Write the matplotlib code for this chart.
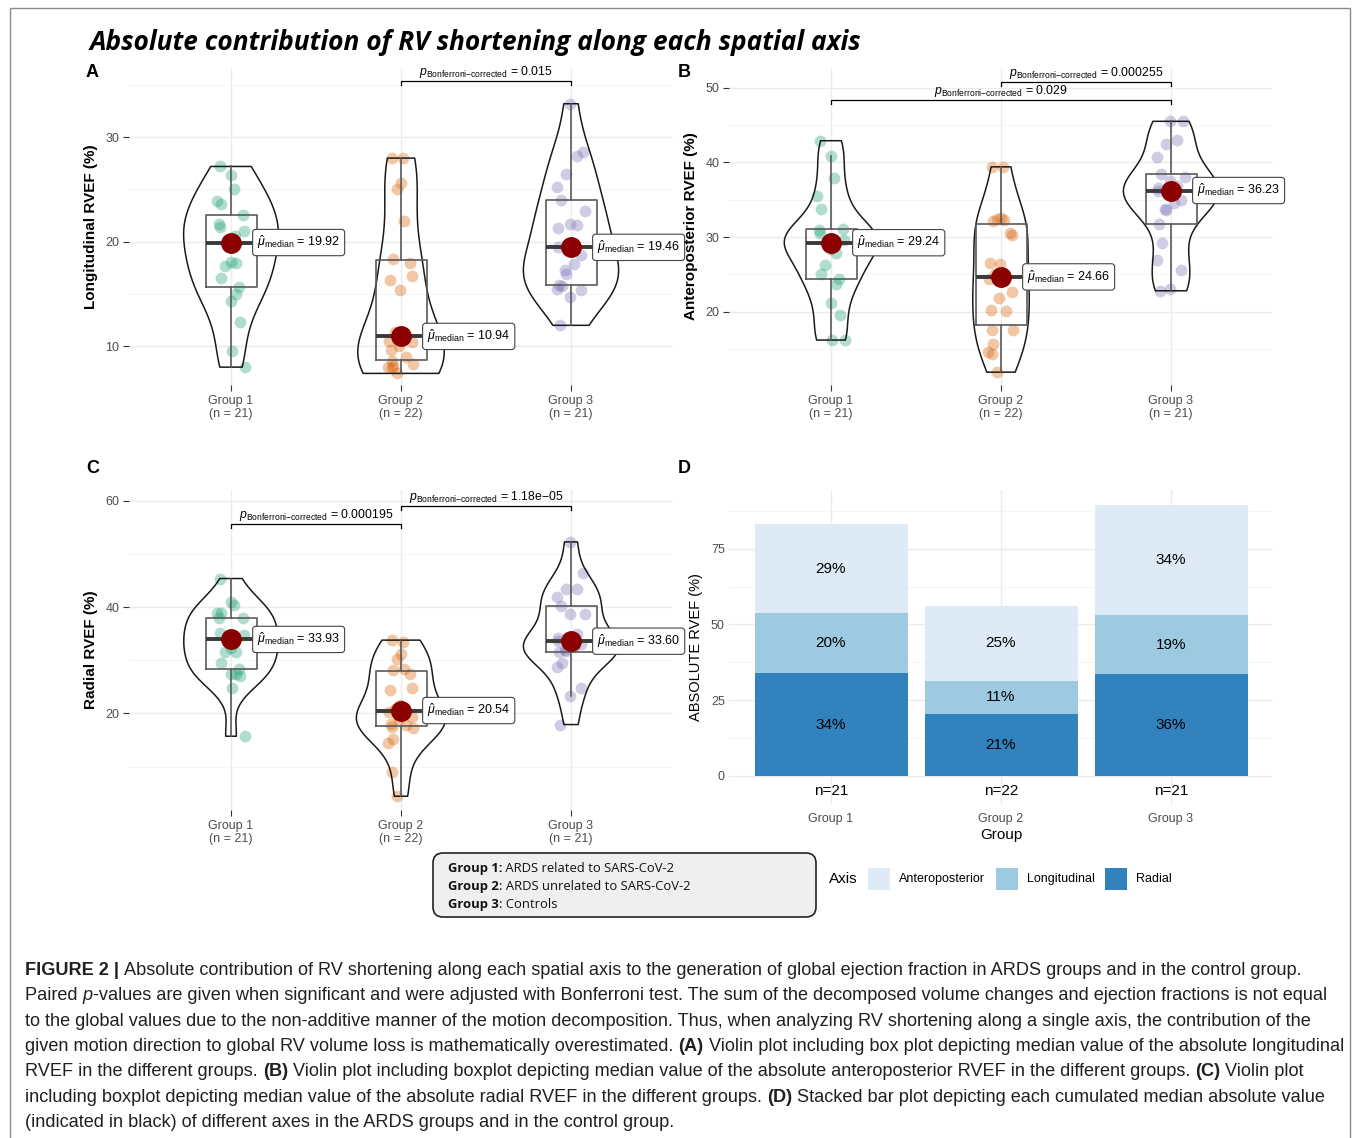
import numpy as np
import matplotlib
matplotlib.use("Agg")
import matplotlib.pyplot as plt
from matplotlib.patches import FancyBboxPatch, Rectangle

# ---------------- data ----------------
groups = ["Group 1", "Group 2", "Group 3"]
group_n = [21, 22, 21]

longitudinal_g1 = [27.2, 26.4, 25.0, 23.9, 23.6, 22.6, 21.7, 21.4, 21.0, 20.5, 19.92,
                   18.1, 18.0, 17.7, 16.5, 15.7, 15.0, 14.3, 12.3, 9.5, 8.0]
longitudinal_g2 = [28.0, 28.0, 25.6, 25.0, 22.0, 18.3, 18.0, 16.7, 16.3, 15.4, 11.38,
                   10.50, 10.4, 10.0, 9.6, 9.0, 8.6, 8.3, 8.1, 8.0, 7.9, 7.4]
longitudinal_g3 = [33.2, 28.6, 28.2, 26.5, 25.2, 24.0, 22.9, 21.7, 21.6, 21.3, 19.46,
                   18.7, 17.9, 17.3, 16.9, 15.9, 15.8, 15.5, 15.4, 14.7, 12.0]

antero_g1 = [42.9, 40.9, 37.9, 35.5, 33.8, 31.1, 30.9, 30.6, 29.6, 29.5, 29.24,
             28.4, 27.9, 26.2, 25.0, 24.4, 23.7, 21.1, 19.5, 16.2, 16.2]
antero_g2 = [39.4, 39.4, 32.6, 32.4, 32.3, 32.1, 30.6, 30.3, 26.5, 26.4, 25.0,
             24.32, 22.6, 21.8, 20.2, 20.1, 17.6, 17.6, 15.7, 14.6, 14.3, 11.9]
antero_g3 = [45.5, 45.5, 43.0, 42.4, 40.7, 38.5, 38.1, 37.5, 36.8, 36.5, 36.23,
             35.0, 34.5, 33.8, 33.6, 31.7, 29.2, 26.9, 25.6, 23.0, 22.8]

radial_g1 = [45.4, 41.0, 40.4, 39.0, 39.0, 38.0, 37.9, 35.1, 34.8, 34.2, 33.93,
             32.4, 31.5, 31.5, 29.4, 28.4, 27.5, 27.5, 27.1, 24.7, 15.7]
radial_g2 = [33.8, 33.5, 31.2, 30.2, 28.3, 28.2, 27.4, 24.7, 24.4, 21.6, 20.8,
             20.28, 19.4, 19.0, 18.0, 17.8, 17.5, 17.2, 15.2, 14.4, 8.9, 4.4]
radial_g3 = [52.3, 46.4, 43.4, 43.4, 42.0, 40.3, 38.7, 38.7, 35.0, 34.2, 33.60,
             33.0, 32.5, 32.0, 31.7, 31.5, 29.4, 28.8, 24.8, 23.2, 17.9]

p_longitudinal = [(2, 3, "0.015")]
p_antero = [(2, 3, "0.000255"), (1, 3, "0.029")]
p_radial = [(1, 2, "0.000195"), (2, 3, "1.18e\u221205")]

axis_names = ["Anteroposterior", "Longitudinal", "Radial"]
bar_labels_radial = ["34%", "21%", "36%"]
bar_labels_longitudinal = ["20%", "11%", "19%"]
bar_labels_antero = ["29%", "25%", "34%"]

legend_groups = [("Group 1:", " ARDS related to SARS-CoV-2"),
                 ("Group 2", ": ARDS unrelated to SARS-CoV-2"),
                 ("Group 3", ": Controls")]

title = "Absolute contribution of RV shortening along each spatial axis"

caption_lines = [
    [("FIGURE 2 | ", "bold", "normal"),
     ("Absolute contribution of RV shortening along each spatial axis to the generation of global ejection fraction in ARDS groups and in the control group.", "normal", "normal")],
    [("Paired ", "normal", "normal"), ("p", "normal", "italic"),
     ("-values are given when significant and were adjusted with Bonferroni test. The sum of the decomposed volume changes and ejection fractions is not equal", "normal", "normal")],
    [("to the global values due to the non-additive manner of the motion decomposition. Thus, when analyzing RV shortening along a single axis, the contribution of the", "normal", "normal")],
    [("given motion direction to global RV volume loss is mathematically overestimated. ", "normal", "normal"),
     ("(A)", "bold", "normal"),
     (" Violin plot including box plot depicting median value of the absolute longitudinal", "normal", "normal")],
    [("RVEF in the different groups. ", "normal", "normal"), ("(B)", "bold", "normal"),
     (" Violin plot including boxplot depicting median value of the absolute anteroposterior RVEF in the different groups. ", "normal", "normal"),
     ("(C)", "bold", "normal"), (" Violin plot", "normal", "normal")],
    [("including boxplot depicting median value of the absolute radial RVEF in the different groups. ", "normal", "normal"),
     ("(D)", "bold", "normal"),
     (" Stacked bar plot depicting each cumulated median absolute value", "normal", "normal")],
    [("(indicated in black) of different axes in the ARDS groups and in the control group.", "normal", "normal")],
]

# ---------------- style ----------------
plt.rcParams.update({
    "font.family": ["Liberation Sans", "DejaVu Sans"],
    "mathtext.fontset": "custom",
    "mathtext.rm": "Liberation Sans",
    "mathtext.it": "Liberation Sans:italic",
    "mathtext.bf": "Liberation Sans:bold",
})

W, H = 1358, 1138
fig = plt.figure(figsize=(W / 100, H / 100), dpi=100)
fig.patch.set_facecolor("white")
renderer = fig.canvas.get_renderer()

group_colors = ["#1B9E77", "#D95F02", "#7570B3"]
bar_colors = {"Anteroposterior": "#DEEBF7", "Longitudinal": "#9ECAE1", "Radial": "#3182BD"}
positions = np.arange(1, len(groups) + 1)
xticklabels = [f"{g}\n(n = {n})" for g, n in zip(groups, group_n)]
GRID = "#ebebeb"
TXT = "#4d4d4d"


def add_ax(l, t, r, b):
    return fig.add_axes([l / W, 1 - b / H, (r - l) / W, (b - t) / H])


def nrd0(x):
    x = np.asarray(x, float)
    sd = np.std(x, ddof=1)
    q75, q25 = np.percentile(x, [75, 25])
    lo = min(sd, (q75 - q25) / 1.34)
    return 0.9 * lo * len(x) ** -0.2


def bw_factor(kde):
    x = np.asarray(kde.dataset).ravel()
    return nrd0(x) / np.std(x, ddof=1)


def max_density(x):
    x = np.asarray(x, float)
    bw = nrd0(x)
    grid = np.linspace(x.min(), x.max(), 300)
    d = np.exp(-0.5 * ((grid[:, None] - x[None, :]) / bw) ** 2).sum(1) / (len(x) * bw * np.sqrt(2 * np.pi))
    return d.max()


def base_style(ax, ylim, yticks, yminor, tick_len=4):
    ax.set_xlim(0.4, 3.6)
    ax.set_ylim(*ylim)
    ax.set_yticks(yticks)
    ax.set_yticks(yminor, minor=True)
    ax.set_xticks(positions)
    ax.grid(which="major", color=GRID, lw=1.0, zorder=0)
    ax.grid(which="minor", axis="y", color="#f4f4f4", lw=0.6, zorder=0)
    ax.set_axisbelow(True)
    for s in ax.spines.values():
        s.set_visible(False)
    ax.tick_params(which="major", length=tick_len, width=0.8, color="#333333",
                   labelcolor=TXT, labelsize=9, pad=3)
    ax.tick_params(which="minor", length=0)


def violin_panel(ax, data, ylim, yticks, yminor, ylabel, pvals, bracket_levels):
    base_style(ax, ylim, yticks, yminor)
    ax.set_xticklabels(xticklabels, linespacing=1.1)
    ax.set_ylabel(ylabel, fontsize=11, fontweight="bold", color="black", labelpad=5)
    dens = [max_density(d) for d in data]
    widths = [0.56 * v / max(dens) for v in dens]
    rng = np.random.default_rng(11)
    for i, d in enumerate(data):
        jit = rng.uniform(-0.085, 0.085, len(d))
        ax.scatter(positions[i] + jit, d, s=72, color=group_colors[i], alpha=0.35, lw=0, zorder=2)
    vp = ax.violinplot(data, positions=positions, widths=widths, showextrema=False, bw_method=bw_factor)
    for b in vp["bodies"]:
        b.set_facecolor("none")
        b.set_edgecolor("#1a1a1a")
        b.set_linewidth(1.1)
        b.set_alpha(1)
        b.set_zorder(3)
    ax.boxplot(data, positions=positions, widths=0.3, showfliers=False, showcaps=False,
               boxprops=dict(color="#5a5a5a", lw=1.2), whiskerprops=dict(color="#5a5a5a", lw=1.2),
               medianprops=dict(color="#3a3a3a", lw=2.8), manage_ticks=False, zorder=3)
    for i, d in enumerate(data):
        med = np.median(d)
        ax.plot(positions[i], med, "o", color="#8B0000", ms=14, zorder=5)
        ax.annotate(r"$\hat{\mu}_{\mathrm{median}}$" + f" = {med:.2f}", xy=(positions[i], med),
                    xytext=(26, 0), textcoords="offset pixels", ha="left", va="center",
                    fontsize=9, zorder=6,
                    bbox=dict(boxstyle="round,pad=0.35,rounding_size=0.25", fc="white",
                              ec="#444444", lw=0.8))
    # significance brackets
    ax_h = ax.get_position().height * H
    tip = 4 * (ylim[1] - ylim[0]) / ax_h
    for (g1, g2, lab), y in zip(pvals, bracket_levels):
        ax.plot([g1, g1, g2, g2], [y - tip, y, y, y - tip], color="black", lw=0.9, zorder=4)
        ax.annotate(r"$p_{\mathrm{Bonferroni{-}corrected}}$" + f" = {lab}", xy=((g1 + g2) / 2, y),
                    xytext=(0, 1), textcoords="offset points", ha="center", va="bottom", fontsize=8.8)


# ---------------- panels ----------------
axA = add_ax(129, 68, 673, 385)
violin_panel(axA, [longitudinal_g1, longitudinal_g2, longitudinal_g3], (6.29, 36.62),
             [10, 20, 30], [15, 25, 35], "Longitudinal RVEF (%)", p_longitudinal, [35.38])

axB = add_ax(729, 68, 1273, 385)
violin_panel(axB, [antero_g1, antero_g2, antero_g3], (10.18, 52.64),
             [20, 30, 40, 50], [15, 25, 35, 45], "Anteroposterior RVEF (%)", p_antero, [50.76, 48.35])

axC = add_ax(129, 490, 673, 810)
violin_panel(axC, [radial_g1, radial_g2, radial_g3], (1.81, 62.07),
             [20, 40, 60], [10, 30, 50], "Radial RVEF (%)", p_radial, [55.67, 59.06])

# panel D: stacked bars of the group medians
axD = add_ax(729, 490, 1273, 805)
base_style(axD, (-9.6, 94.4), [0, 25, 50, 75], [12.5, 37.5, 62.5, 87.5], tick_len=0)
axD.set_xticklabels(groups)
axD.tick_params(axis="x", pad=6)
med_rad = np.array([np.median(v) for v in (radial_g1, radial_g2, radial_g3)])
med_lon = np.array([np.median(v) for v in (longitudinal_g1, longitudinal_g2, longitudinal_g3)])
med_ant = np.array([np.median(v) for v in (antero_g1, antero_g2, antero_g3)])
axD.bar(positions, med_rad, width=0.9, color=bar_colors["Radial"], zorder=2)
axD.bar(positions, med_lon, width=0.9, bottom=med_rad, color=bar_colors["Longitudinal"], zorder=2)
axD.bar(positions, med_ant, width=0.9, bottom=med_rad + med_lon, color=bar_colors["Anteroposterior"], zorder=2)
for i in range(3):
    axD.text(positions[i], med_rad[i] / 2, bar_labels_radial[i], ha="center", va="center", fontsize=11, zorder=3)
    axD.text(positions[i], med_rad[i] + med_lon[i] / 2, bar_labels_longitudinal[i], ha="center", va="center", fontsize=11, zorder=3)
    axD.text(positions[i], med_rad[i] + med_lon[i] + med_ant[i] / 2, bar_labels_antero[i], ha="center", va="center", fontsize=11, zorder=3)
    axD.text(positions[i], -5, f"n={group_n[i]}", ha="center", va="center", fontsize=11, zorder=3)
axD.set_ylabel("ABSOLUTE RVEF (%)", fontsize=10.5, color="black", labelpad=6)
axD.set_xlabel("Group", fontsize=11, color="black", labelpad=2)

# ---------------- overlay (pixel coordinates) ----------------
ov = fig.add_axes([0, 0, 1, 1], zorder=10)
ov.set_xlim(0, W)
ov.set_ylim(H, 0)
ov.axis("off")
ov.patch.set_visible(False)


def text_width(s, **kw):
    t = ov.text(0, 0, "x" + s + "x", **kw)
    w1 = t.get_window_extent(renderer).width
    t.set_text("xx")
    w2 = t.get_window_extent(renderer).width
    t.remove()
    return w1 - w2


def draw_runs(x, y, runs, **kw):
    for s, weight, style in runs:
        ov.text(x, y, s, fontweight=weight, fontstyle=style, ha="left", va="baseline", **kw)
        x += text_width(s, fontweight=weight, fontstyle=style, **kw)
    return x


# frame
ov.add_patch(Rectangle((10, 8), 1340, 1200, fill=False, ec="#8c8c8c", lw=1.0))

# title (size fitted to the reference width)
tkw = dict(fontweight="bold", fontstyle="italic", family=["Open Sans", "DejaVu Sans"])
tw = text_width(title, fontsize=10, **tkw)
ov.text(90, 42, title, fontsize=10 * 772 / tw, va="center", ha="left", **tkw)

for lab, (x, y) in zip("ABCD", [(86, 72), (678, 72), (86, 468), (678, 468)]):
    ov.text(x, y, lab, fontsize=13, fontweight="bold", va="center", ha="left")

# group legend box
ov.add_patch(FancyBboxPatch((433, 853), 383, 64, boxstyle="round,pad=0,rounding_size=10",
                            fc="#efefef", ec="#222222", lw=1.2))
for k, (b, rest) in enumerate(legend_groups):
    draw_runs(448, 872 + 18 * k, [(b, "bold", "normal"), (rest, "normal", "normal")],
              fontsize=9.4, color="#111111", family=["Open Sans", "DejaVu Sans"])

# axis legend
ov.text(829, 879, "Axis", fontsize=11, va="center", ha="left")
for name, x in zip(axis_names, [868, 996, 1105]):
    ov.add_patch(Rectangle((x, 868), 22, 22, fc=bar_colors[name], ec="none"))
    ov.text(x + 31, 879, name, fontsize=9, va="center", ha="left")

# caption
ckw = dict(color="#231f20", family=["Liberation Sans", "DejaVu Sans"])
w_line1 = sum(text_width(s, fontsize=10, fontweight=w, fontstyle=st, **ckw) for s, w, st in caption_lines[0])
csize = 10 * 1278 / w_line1
for k, runs in enumerate(caption_lines):
    draw_runs(25, 975 + 25.3 * k, runs, fontsize=csize, **ckw)

fig.savefig("out.png", dpi=100, facecolor="white")
